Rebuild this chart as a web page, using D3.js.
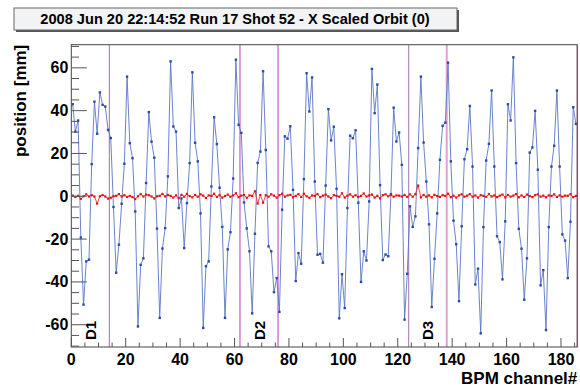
<!DOCTYPE html>
<html><head><meta charset="utf-8">
<script src="https://cdn.jsdelivr.net/npm/d3@7"></script>
<style>body{margin:0;background:#fff}svg{display:block}text{font-family:"Liberation Sans",Arial,sans-serif;font-weight:bold}</style>
</head><body><div id="c"></div>
<script>
const titleText = "2008 Jun 20 22:14:52 Run 17 Shot 52 - X Scaled Orbit (0)";
const xTitle = "BPM channel#";
const yTitle = "position [mm]";
const xTicks = [0,20,40,60,80,100,120,140,160,180];
const yTicks = [-60,-40,-20,0,20,40,60];
const markerLines = [14,62,76,124,138,186];
const sectionLabels = ["D1","D2","D3"];
const sectionCenters = [7,69,131];
const orbitX = [43,30.2,35.4,-19.3,-50.6,-30.4,-29.6,15,44.2,29.2,
48.5,42.7,41.9,31,27.2,-5,-35.7,-22.6,-3.5,15.2,
55.9,24.8,17.8,-7.1,-60.8,-32,-29,6.2,39.3,25.5,
18,-15.1,-56.8,-24.4,-14.9,9.3,63,32.6,30.2,-5.5,
-1,-24.2,-3.2,15.5,57.9,25,16.3,-8,-61.5,-32.7,
-30.4,4.6,36.9,24.4,4,-14.3,-56.8,-24.8,-16.8,8.3,
63.8,33.4,29.6,-2.9,-15,-25.7,-54.7,-17.5,15.6,20.9,
58.4,21.6,-23.4,-25.7,-44.8,-38.2,-54,-6.3,28,26.9,
32.7,3,-39.6,-26.5,-31.5,8,57.5,39.6,55.5,6.9,
-27.3,-26.9,-31,5,40.7,26.1,32.5,3.5,-57,-36.4,
-52.2,-5.5,28.3,27.1,30.8,-3,-40,-25.7,-30,-2.4,
59.5,38.8,52.2,5.2,-29.8,-27.2,-28,1,41.4,25.6,
29.8,14.7,-57.6,-36.2,-4.7,-14.3,-9.4,22.5,55.9,25.1,
6.9,-13.1,-51.7,-29.2,-8,17,32.9,34.4,62.4,16.3,
-11.4,-22.4,-49,-14,17.3,22,42.2,13.9,-41.2,-33.8,
-64,-14.4,16.7,24.5,49.4,13.9,-18.7,-21.4,-38.8,-11.7,
43,35.4,64.9,15.5,-15.2,-24.5,-48.3,-29,20.4,22.8,
39.9,12.4,-41.6,-34.5,-62.5,-14.4,13.9,23.6,49.4,13.9,
-17.8,-20.7,-38.2,-11.9,41.6,33.8];
const orbitRef = [0.3,-0.3,0.2,-1.2,0.0,0.9,-0.1,0.5,-0.1,-3.4,
0.0,0.6,-0.1,-1.1,-0.7,0.0,0.2,1.0,-0.1,0.5,
-0.3,0.2,-0.4,-1.3,0.0,1.0,-0.1,0.8,0.5,-0.1,
-1.0,0.0,0.2,1.1,-0.1,0.6,0.2,-0.6,0.4,-0.9,
0.7,-0.2,1.1,0.1,-0.5,0.6,-0.2,0.9,0.3,-0.8,
0.4,0.2,1.2,-0.3,0.5,-0.6,0.1,0.8,-0.2,0.4,
1.4,-0.4,0.3,0.6,-0.7,0.4,0.2,2.3,-3.4,0.6,
-3.0,0.5,-0.2,0.9,0.3,-0.6,0.5,1.2,-0.2,0.4,
0.7,-0.5,0.2,1.0,-0.3,1.2,0.0,-0.7,0.4,0.2,
1.0,-0.4,0.3,0.8,-0.1,-0.9,0.5,0.2,-0.2,1.4,
-0.6,0.3,0.9,-0.2,0.5,-0.3,0.2,1.3,-0.1,0.4,
0.8,-0.6,0.2,-1.0,0.5,0.9,0.0,0.6,-0.2,0.4,
0.3,-0.1,0.6,-0.3,0.9,-0.2,1.0,5.0,-0.5,0.6,
-0.2,0.4,-0.5,0.7,0.1,-0.3,0.5,0.2,1.2,-0.4,
0.3,-0.6,0.4,0.9,-0.2,0.3,1.0,-0.2,0.4,-0.6,
0.5,0.2,-0.3,1.0,-0.1,0.4,-0.4,0.3,0.8,-0.5,
0.6,-0.2,0.3,1.0,-0.5,0.4,-0.3,0.8,0.1,-0.4,
0.5,0.9,-0.2,0.3,-0.5,0.4,0.2,0.9,-0.3,0.4,
-0.2,0.3,0.2,1.0,-0.4,0.2];

const W=580,H=388;
const L=71.3,R=577.3,T=44.7,B=347;
const svg=d3.select("#c").append("svg").attr("width",W).attr("height",H);
const x=d3.scaleLinear().domain([0,186]).range([L,R]);
const y=d3.scaleLinear().domain([-70.4,70.8]).range([B,T]);

// title box
const tb={x:14,y:8,w:443,h:22};
svg.append("rect").attr("x",tb.x+2).attr("y",tb.y+2).attr("width",tb.w).attr("height",tb.h).attr("fill","#555");
svg.append("rect").attr("x",tb.x).attr("y",tb.y).attr("width",tb.w).attr("height",tb.h).attr("fill","#f2f3f5").attr("stroke","#666").attr("stroke-width",1);
svg.append("text").attr("x",tb.x+tb.w/2-0.5).attr("y",tb.y+16.3).attr("text-anchor","middle").attr("font-size",14.6).attr("fill","#000").text(titleText);

// clip
svg.append("clipPath").attr("id","pc").append("rect").attr("x",L).attr("y",T).attr("width",R-L).attr("height",B-T);
const g=svg.append("g").attr("clip-path","url(#pc)");

// marker lines
const lineColors={14:"#c080b0",62:"#c060c0",76:"#c060c0",124:"#b888c0",138:"#e0a0d0",186:"#e03060"};
markerLines.forEach(v=>{
  g.append("line").attr("x1",x(v)).attr("x2",x(v)).attr("y1",T).attr("y2",B)
   .attr("stroke",lineColors[v]).attr("stroke-width",v===138?2:1.2);
});

// series
const idx=d3.range(orbitX.length);
const line=d3.line().x(i=>x(i+0.5));
g.append("path").datum(idx).attr("d",line.y(i=>y(orbitX[i]))).attr("fill","none").attr("stroke","#5a76c4").attr("stroke-width",0.9);
g.selectAll(".mb").data(idx).enter().append("rect").attr("x",i=>x(i+0.5)-1.2).attr("y",i=>y(orbitX[i])-1.2).attr("width",2.4).attr("height",2.4).attr("fill","#2a4aa8");
g.append("path").datum(idx).attr("d",d3.line().x(i=>x(i+0.5)).y(i=>y(orbitRef[i]))(idx)).attr("fill","none").attr("stroke","#ff3030").attr("stroke-width",0.9);
g.selectAll(".mr").data(idx).enter().append("rect").attr("x",i=>x(i+0.5)-1.1).attr("y",i=>y(orbitRef[i])-1.1).attr("width",2.2).attr("height",2.2).attr("fill","#e81010");

// section labels
sectionLabels.forEach((s,k)=>{
  const cx=x(sectionCenters[k]), cy=330.5;
  svg.append("text").attr("transform",`translate(${cx+5.5},${cy}) rotate(-90)`).attr("text-anchor","middle").attr("font-size",15).attr("fill","#000").text(s);
});

// frame
svg.append("rect").attr("x",L).attr("y",T).attr("width",R-L).attr("height",B-T).attr("fill","none").attr("stroke","#444").attr("stroke-width",1);

// y ticks
const yMinor=d3.range(-70,71,5);
yMinor.forEach(v=>{
  const major=v%20===0;
  svg.append("line").attr("x1",L).attr("x2",L+(major?15.5:7.8)).attr("y1",y(v)).attr("y2",y(v)).attr("stroke","#555").attr("stroke-width",1);
});
yTicks.forEach(v=>{
  svg.append("text").attr("x",L-3).attr("y",y(v)+5.5).attr("text-anchor","end").attr("font-size",16).attr("fill","#000").text(v);
});
// x ticks
const xMinor=d3.range(0,187,5);
xMinor.forEach(v=>{
  const major=v%20===0;
  svg.append("line").attr("x1",x(v)).attr("x2",x(v)).attr("y1",B).attr("y2",B-(major?9:4.5)).attr("stroke","#555").attr("stroke-width",1);
});
xTicks.forEach(v=>{
  svg.append("text").attr("x",x(v)).attr("y",365).attr("text-anchor","middle").attr("font-size",16).attr("fill","#000").text(v);
});
// axis titles
svg.append("text").attr("x",R).attr("y",384).attr("text-anchor","end").attr("font-size",17).attr("fill","#000").text(xTitle);
svg.append("text").attr("transform",`translate(25.5,${T}) rotate(-90)`).attr("text-anchor","end").attr("font-size",17).attr("fill","#000").text(yTitle);
</script></body></html>
